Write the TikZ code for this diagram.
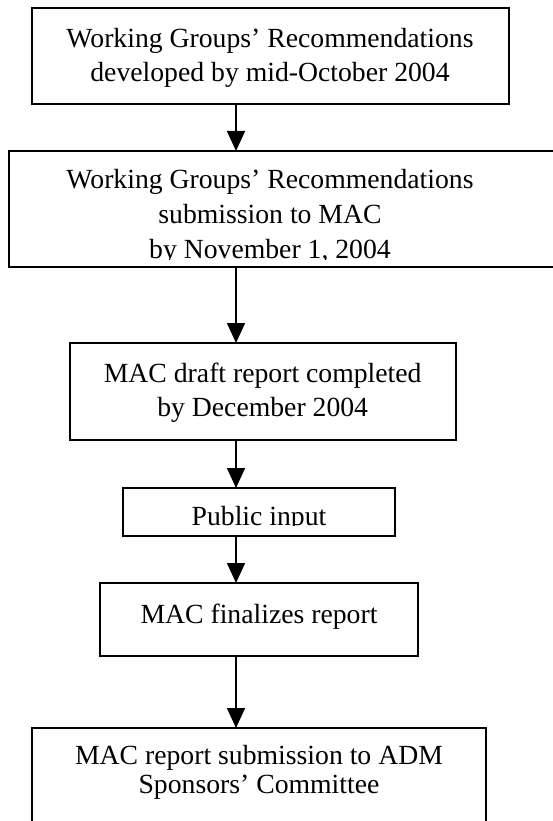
\documentclass[tikz,border=0pt]{standalone}
\usepackage{fontspec}
\setmainfont{Liberation Serif}
\usetikzlibrary{arrows.meta}
\begin{document}
\begin{tikzpicture}[x=1pt,y=-1pt,
  box/.style={draw, line width=1.8pt, inner sep=0pt, outer sep=0pt, anchor=north west},
  lbl/.style={anchor=base, inner sep=0pt, font=\fontsize{27.7}{34}\selectfont},
  arr/.style={line width=1.6pt, -{Triangle[width=18pt,length=20pt]}}]
\useasboundingbox (0,0) rectangle (553,821);
\clip (0,0) rectangle (553,821);
\fill[white] (0,0) rectangle (553,821);
% boxes
\node[box, minimum width=477pt, minimum height=96pt] (b1) at (32,8) {};
\node[box, minimum width=580pt, minimum height=116pt] (b2) at (9,151) {};
\node[box, minimum width=386pt, minimum height=97pt] (b3) at (70,343) {};
\node[box, minimum width=272pt, minimum height=48pt] (b4) at (123,488) {};
\node[box, minimum width=318pt, minimum height=73pt] (b5) at (100,583) {};
\node[box, minimum width=454pt, minimum height=120pt] (b6) at (32,728) {};
% connectors
\coordinate (ax) at (236,0);
\draw[arr] (b1.south -| ax) -- (b2.north -| ax);
\draw[arr] (b2.south -| ax) -- (b3.north -| ax);
\draw[arr] (b3.south -| ax) -- (b4.north -| ax);
\draw[arr] (b4.south -| ax) -- (b5.north -| ax);
\draw[arr] (b5.south -| ax) -- (b6.north -| ax);
% texts
\node[lbl] (t1a) at (270,47.5) {Working Groups’ Recommendations};
\node[lbl] (t1b) at (270,81.5) {developed by mid-October 2004};
\begin{scope}
\clip (9,151) rectangle (553,259);
\node[lbl] (t2a) at (270,188.5) {Working Groups’ Recommendations};
\node[lbl] (t2b) at (270,223.5) {submission to MAC};
\node[lbl] (t2c) at (270,258.5) {by November 1, 2004};
\end{scope}
\node[lbl] (t3a) at (262.7,382) {MAC draft report completed};
\node[lbl] (t3b) at (262.7,416) {by December 2004};
\begin{scope}
\clip (123,488) rectangle (395,525);
\node[lbl] (t4) at (259,525) {Public input};
\end{scope}
\node[lbl] (t5) at (259,623) {MAC finalizes report};
\node[lbl] (t6a) at (259,764) {MAC report submission to ADM};
\node[lbl] (t6b) at (259,793) {Sponsors’ Committee};
\end{tikzpicture}
\end{document}
